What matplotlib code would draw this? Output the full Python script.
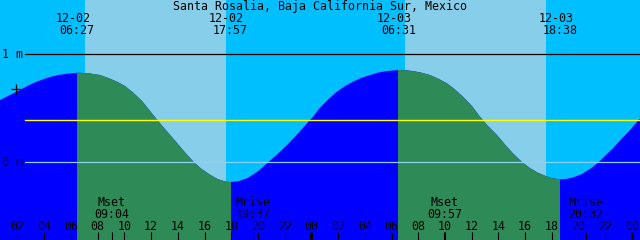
import numpy as np
import matplotlib.pyplot as plt
from matplotlib.patches import Rectangle

# --------------------------
# DATA (hours since 12-02 00:00, metres)
# --------------------------
tide_hours = [0.69, 1.29, 1.89, 2.56, 3.16, 3.83, 4.43, 5.03, 5.70, 6.53,
              7.35, 8.18, 8.77, 9.45, 10.05, 10.65, 11.32, 11.92, 12.44, 12.67,
              13.26, 13.94, 14.54, 15.14, 15.73, 16.41, 17.01, 17.61, 17.91,
              18.50, 19.18, 19.93, 20.68, 21.42, 22.17, 22.92, 23.67, 24.19,
              24.64, 25.24, 25.91, 26.51, 27.11, 27.71, 28.38, 28.98, 29.66,
              30.56, 31.08, 31.60, 32.20, 32.88, 33.47, 34.15, 34.75, 35.35,
              36.02, 36.62, 37.22, 37.89, 38.49, 39.09, 39.76, 40.36, 40.96,
              41.63, 42.08, 42.61, 43.13, 43.58, 44.18, 44.85, 45.45, 45.97,
              46.57, 47.17, 47.85, 48.60]
tide_height = [0.577, 0.614, 0.651, 0.695, 0.733, 0.765, 0.790, 0.808, 0.820,
               0.830, 0.824, 0.808, 0.782, 0.746, 0.706, 0.646, 0.568, 0.475,
               0.396, 0.361, 0.276, 0.179, 0.091, 0.010, -0.057, -0.115,
               -0.157, -0.179, -0.182, -0.176, -0.148, -0.090, -0.009, 0.072,
               0.160, 0.257, 0.361, 0.433, 0.506, 0.581, 0.654, 0.706, 0.746,
               0.781, 0.808, 0.831, 0.845, 0.855, 0.852, 0.845, 0.831, 0.808,
               0.776, 0.731, 0.674, 0.607, 0.521, 0.422, 0.336, 0.253, 0.165,
               0.083, 0.003, -0.053, -0.097, -0.131, -0.149, -0.157, -0.153,
               -0.139, -0.113, -0.062, -0.005, 0.058, 0.130, 0.211, 0.299,
               0.407]

sun_dates = ["12-02", "12-02", "12-03", "12-03"]
sun_times = ["06:27", "17:57", "06:31", "18:38"]
sun_days = [0, 0, 1, 1]

sky_day_spans = [(7.05, 17.61), (31.01, 41.56)]

moon_names = ["Mset", "Mrise", "Mset", "Mrise"]
moon_times = ["09:04", "19:37", "09:57", "20:32"]
moon_days = [0, 0, 1, 1]

hour_ticks = list(range(2, 49, 2))
mean_level = 0.389
plus_mark = (1.92, 0.679)


def to_hours(day, hhmm):
    hh, mm = hhmm.split(":")
    return day * 24 + int(hh) + int(mm) / 60


sun_hours = [to_hours(d, s) for d, s in zip(sun_days, sun_times)]
moon_hours = [to_hours(d, s) for d, s in zip(moon_days, moon_times)]

# --------------------------
# PLOT
# --------------------------
W, H = 640, 240
x0, x1 = 0.69, 48.6
y0, y1 = -0.719, 1.503

fig = plt.figure(figsize=(6.4, 2.4), dpi=100)
fig.patch.set_facecolor('#00BFFF')
ax = fig.add_axes([0, 0, 1, 1])
ax.set_xlim(x0, x1)
ax.set_ylim(y0, y1)
ax.axis('off')

# daylight sky
for a, b in sky_day_spans:
    ax.axvspan(a, b, color='#87CEEB', lw=0, zorder=0)

# tide, blue at night, green in daylight
ax.fill_between(tide_hours, tide_height, y0 - 1, color='#0000FF', lw=0, zorder=1)
for i in range(0, len(sun_hours), 2):
    poly = ax.fill_between(tide_hours, tide_height, y0 - 1, color='#2E8B57',
                           lw=0, zorder=2)
    rect = Rectangle((sun_hours[i], y0 - 1), sun_hours[i + 1] - sun_hours[i], 5,
                     transform=ax.transData)
    poly.set_clip_path(rect)

# reference lines
start = 25 / W
ax.axhline(1.0, xmin=start, color='black', lw=0.9, zorder=3)
ax.axhline(0.0, xmin=start, color='#8FD0F0', lw=0.9, zorder=3)
ax.axhline(mean_level, xmin=start, color='#FFFF00', lw=1.0, zorder=3)
ax.plot(*plus_mark, marker='+', color='black', ms=7, mew=0.9, zorder=4)

font = dict(family='DejaVu Sans Mono', size=8.4, color='black')
xt = ax.get_xaxis_transform()


def py(p):
    return 1 - p / H


# title and level labels
fig.text(0.5, py(10), "Santa Rosalia, Baja California Sur, Mexico",
         ha='center', va='baseline', **font)
fig.text(2 / W, py(57.5), "1 m", ha='left', va='baseline', **font)
fig.text(2 / W, py(165.5), "0 m", ha='left', va='baseline', **font)

# sunrise / sunset labels
px_per_hour = W / (x1 - x0)
for h, d, s in zip(sun_hours, sun_dates, sun_times):
    ax.text(h - 4 / px_per_hour, py(21.7), d, transform=xt, ha='center',
            va='baseline', **font)
    ax.text(h, py(34), s, transform=xt, ha='center', va='baseline', **font)

# moon labels
for h, n, s in zip(moon_hours, moon_names, moon_times):
    ax.text(h, py(206), n, transform=xt, ha='center', va='baseline', **font)
    ax.text(h, py(217.7), s, transform=xt, ha='center', va='baseline', **font)

# hour ticks and labels
tick_top = 8 / H
for h in hour_ticks:
    lw = 2.2 if h % 24 == 0 else 0.8
    ax.plot([h, h], [0, tick_top], transform=xt, color='black', lw=lw,
            solid_capstyle='butt', zorder=5)
    ax.text(h, py(230), "%02d" % (h % 24), transform=xt, ha='center',
            va='baseline', **font)
for h in moon_hours:
    ax.plot([h, h], [0, tick_top], transform=xt, color='black', lw=0.8,
            solid_capstyle='butt', zorder=5)

fig.savefig("out.png", dpi=100, facecolor=fig.get_facecolor())
